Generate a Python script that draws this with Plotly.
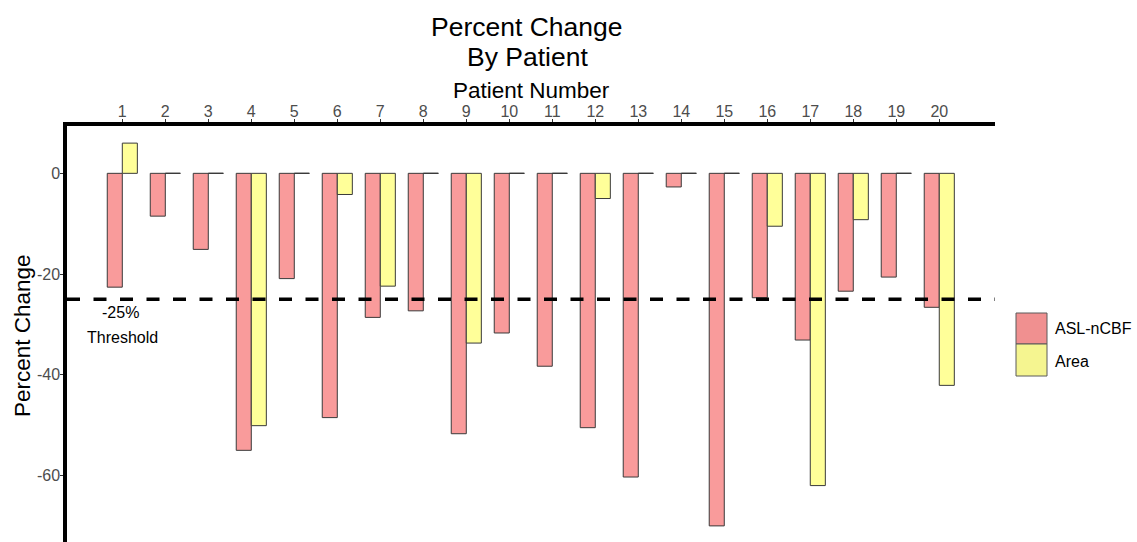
import plotly.graph_objects as go

patients = list(range(1, 21))
asl_ncbf = [-22.6, -8.5, -15.1, -55.0, -20.9, -48.5, -28.6, -27.3, -51.7, -31.7,
            -38.3, -50.5, -60.3, -2.7, -70.0, -24.7, -33.1, -23.4, -20.6, -26.6]
area = [6.0, 0, 0, -50.1, 0, -4.2, -22.4, 0, -33.7, 0,
        0, -5.0, 0, 0, 0, -10.5, -62.0, -9.2, 0, -42.1]
series_names = ["ASL-nCBF", "Area"]
threshold = -25
y_ticks = [-60, -40, -20, 0]

FONT = "Liberation Sans, Arial, sans-serif"
RED = "#F99B9B"
YEL = "#FFFF99"
EDGE = "#3a3a3a"

W, H = 1137, 542
ML, MR, MT, MB = 67, 142, 126, 0
PW, PH = W - ML - MR, H - MT - MB

def px_x(p):
    return (p - ML) / PW

def px_y(p):
    return (H - MB - p) / PH

fig = go.Figure()
fig.add_trace(go.Bar(x=patients, y=asl_ncbf, name=series_names[0],
                     marker=dict(color=RED, line=dict(color=EDGE, width=1)),
                     showlegend=False))
fig.add_trace(go.Bar(x=patients, y=area, name=series_names[1],
                     marker=dict(color=YEL, line=dict(color=EDGE, width=1)),
                     showlegend=False))

shapes = []
# zero-valued bars drawn as their outline at 0 (bar width 0.35 per series)
bw = 0.35
for i, p in enumerate(patients):
    for k, vals in enumerate([asl_ncbf, area]):
        if vals[i] == 0:
            x0 = p - bw + k * bw
            shapes.append(dict(type="line", xref="x", yref="y", x0=x0, x1=x0 + bw,
                               y0=0, y1=0, line=dict(color=EDGE, width=1), layer="above"))

# threshold line
shapes.append(dict(type="line", xref="paper", yref="y", x0=0, x1=1, y0=threshold, y1=threshold,
                   line=dict(color="black", width=3.5, dash="13px,13.5px"), layer="above"))

# legend keys
kx0, kx1 = px_x(1016), px_x(1047)
shapes.append(dict(type="rect", xref="paper", yref="paper", x0=kx0, x1=kx1,
                   y0=px_y(344), y1=px_y(313), fillcolor="#F09090",
                   line=dict(color="#5a5a5a", width=1)))
shapes.append(dict(type="rect", xref="paper", yref="paper", x0=kx0, x1=kx1,
                   y0=px_y(376), y1=px_y(344), fillcolor="#F5F590",
                   line=dict(color="#5a5a5a", width=1)))

annotations = [
    dict(text="Percent Change", xref="paper", yref="paper", x=px_x(527), y=px_y(27),
         xanchor="center", yanchor="middle", showarrow=False,
         font=dict(family=FONT, size=26.5, color="black")),
    dict(text="By Patient", xref="paper", yref="paper", x=px_x(527), y=px_y(57),
         xanchor="center", yanchor="middle", showarrow=False,
         font=dict(family=FONT, size=26.5, color="black")),
    dict(text="Patient Number", xref="paper", yref="paper", x=px_x(531), y=px_y(91),
         xanchor="center", yanchor="middle", showarrow=False,
         font=dict(family=FONT, size=22.5, color="black")),
    dict(text="Percent Change", xref="paper", yref="paper", x=px_x(22), y=px_y(336),
         xanchor="center", yanchor="middle", showarrow=False, textangle=-90,
         font=dict(family=FONT, size=22.5, color="black")),
    dict(text="-25%", xref="x", yref="y", x=patients[0], y=-27.7, xshift=-2,
         xanchor="center", yanchor="middle", showarrow=False,
         font=dict(family=FONT, size=16, color="black")),
    dict(text="Threshold", xref="x", yref="y", x=patients[0], y=-32.5,
         xanchor="center", yanchor="middle", showarrow=False,
         font=dict(family=FONT, size=16, color="black")),
    dict(text=series_names[0], xref="paper", yref="paper", x=px_x(1053), y=px_y(328),
         xanchor="left", yanchor="middle", showarrow=False,
         font=dict(family=FONT, size=16, color="black")),
    dict(text=series_names[1], xref="paper", yref="paper", x=px_x(1053), y=px_y(361),
         xanchor="left", yanchor="middle", showarrow=False,
         font=dict(family=FONT, size=16, color="black")),
]

fig.update_layout(
    width=W, height=H,
    margin=dict(l=ML, r=MR, t=MT, b=MB, pad=0),
    paper_bgcolor="white", plot_bgcolor="white",
    barmode="group", bargap=0.3, bargroupgap=0,
    font=dict(family=FONT, color="#4D4D4D"),
    shapes=shapes, annotations=annotations,
    showlegend=False,
    xaxis=dict(side="top", range=[-0.286, 21.296], tickmode="array",
               tickvals=patients, ticktext=[str(p) for p in patients],
               showgrid=False, zeroline=False, showline=True, linecolor="black",
               linewidth=3.5, ticks="outside", ticklen=3, tickcolor="#333333",
               tickwidth=1, ticklabelstandoff=-4,
               tickfont=dict(family=FONT, size=16, color="#4D4D4D")),
    yaxis=dict(range=[-73.2, 9.4], tickmode="array", tickvals=y_ticks,
               ticktext=[str(v) for v in y_ticks],
               showgrid=False, zeroline=False, showline=True, linecolor="black",
               linewidth=3.5, ticks="outside", ticklen=3, tickcolor="#333333",
               tickwidth=1, ticklabelstandoff=-3,
               tickfont=dict(family=FONT, size=16, color="#4D4D4D")),
)

fig.write_html("out.html", config={"displayModeBar": False},
               post_script="document.body.style.margin='0';document.body.style.overflow='hidden';")
